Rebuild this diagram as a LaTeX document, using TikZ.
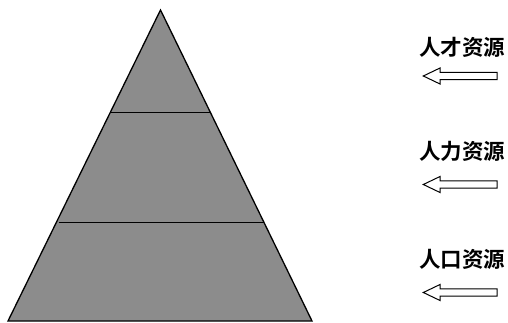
\documentclass[tikz,border=0pt]{standalone}
\usepackage{fontspec}
\newfontfamily\cjk{Noto Sans CJK SC Bold}
\definecolor{pyrgray}{HTML}{8C8C8C}
\tikzset{
  layer/.style={fill=pyrgray, draw=black, line width=1.3pt, line join=miter},
  divider/.style={draw=black, line width=1.3pt},
  lbl/.style={font=\cjk\fontsize{21.5}{21.5}\selectfont, inner sep=0pt, anchor=center},
  hollowarrow/.style={draw=black, line width=1pt, fill=white, line join=miter}
}
\begin{document}
\begin{tikzpicture}[x=1pt,y=-1pt]
\useasboundingbox (0,0) rectangle (508,323);
% pyramid
\coordinate (apex) at (160.5,10);
\coordinate (bl) at (8,321);
\coordinate (br) at (312,321);
\coordinate (l1a) at (111.2,112.3);
\coordinate (l1b) at (209.5,112.3);
\coordinate (l2a) at (58.5,222.7);
\coordinate (l2b) at (263.5,222.7);
\path[layer] (apex) -- (br) -- (bl) -- cycle;
\draw[divider] (l1a) -- (l1b);
\draw[divider] (l2a) -- (l2b);
% labels
\node[lbl] (t1) at (462,47.5) {人才资源};
\node[lbl] (t2) at (462,151.5) {人力资源};
\node[lbl] (t3) at (462,259.5) {人口资源};
% hollow arrows
\foreach \n/\y in {1/76,2/184.5,3/292.5}{
  \draw[hollowarrow] (423.3,\y) -- (440,\y-8) -- (440,\y-3.6) -- (497,\y-3.6)
     -- (497,\y+3.6) -- (440,\y+3.6) -- (440,\y+8) -- cycle;
}
\end{tikzpicture}
\end{document}
